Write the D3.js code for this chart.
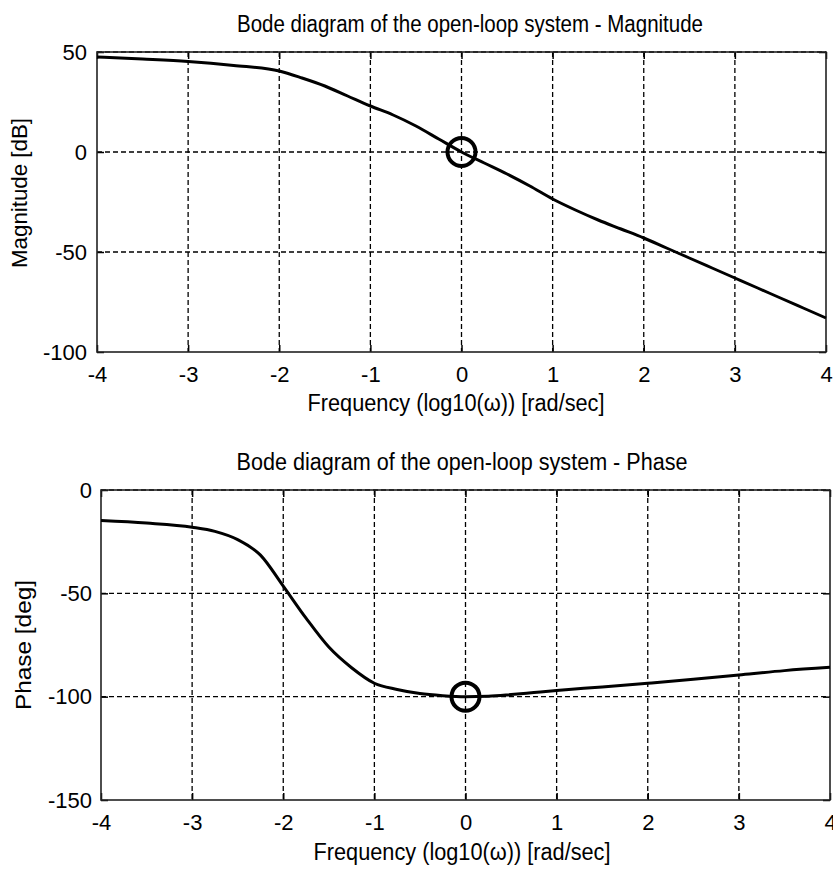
<!DOCTYPE html>
<html lang="en">
<head>
<meta charset="utf-8">
<title>Bode diagram</title>
<script src="https://d3js.org/d3.v7.min.js"></script>
<style>
body { margin: 0; background: #fff; }
svg { display: block; }
text { font-family: "Liberation Sans", Arial, sans-serif; fill: #000; }
.grid line { stroke: #000; stroke-width: 1.3; stroke-dasharray: 5,3; }
.axis path { display: none; }
.axis line { stroke: #000; stroke-width: 1.5; }
.axis text { font-size: 22px; }
.frame { fill: none; stroke: #222; stroke-width: 1.6; }
.curve { fill: none; stroke: #000; stroke-width: 3; }
.marker { fill: none; stroke: #000; stroke-width: 4; }
</style>
</head>
<body>
<script>

// frequency axis, log10(w)
var freqTicks = [-4, -3, -2, -1, 0, 1, 2, 3, 4];
var magTicks = [-100, -50, 0, 50];
var phaseTicks = [-150, -100, -50, 0];

// magnitude curve [dB]
var magFreq = [-4, -3.5, -3, -2.5, -2, -1.75, -1.5, -1.25, -1, -0.75, -0.5, -0.25, 0,
               0.25, 0.5, 0.75, 1, 1.25, 1.5, 1.75, 2, 2.25, 2.5, 2.75, 3, 3.25, 3.5, 3.75, 4];
var magDb = [47.5, 46.5, 45.3, 43.3, 40.5, 37, 33, 28, 23, 18.5, 13, 6.5, 0,
             -5.5, -11, -17, -23.5, -29, -34, -38.5, -43, -48, -53, -58, -63, -68, -73, -78, -83];

// phase curve [deg]
var phFreq = [-4, -3.5, -3, -2.75, -2.5, -2.25, -2, -1.75, -1.5, -1.25, -1, -0.75, -0.5, -0.25, 0,
              0.25, 0.5, 0.75, 1, 1.5, 2, 2.5, 3, 3.5, 4];
var phDeg = [-14.8, -16, -18, -20, -24, -31.5, -46.5, -62, -76, -86, -93.5, -96.5, -98.5, -99.5, -100,
             -99.8, -99, -98, -97, -95.3, -93.5, -91.6, -89.5, -87.4, -85.8];

// crossover markers
var magMarker = [0, 0];
var phMarker = [0, -100];

var svg = d3.select("body").append("svg")
    .attr("width", 833)
    .attr("height", 870);

function fitText(sel, w) {
    sel.attr("textLength", w).attr("lengthAdjust", "spacingAndGlyphs");
}

// plain hyphen minus like the original
var fmt = function(d) { return String(d); };

function panel(opt) {
    var x = d3.scaleLinear().domain([-4, 4]).range([opt.left, opt.right]);
    var y = d3.scaleLinear().domain(opt.yDomain).range([opt.bottom, opt.top]);
    var g = svg.append("g");

    // dashed grid
    var grid = g.append("g").attr("class", "grid");
    grid.selectAll(".gx").data(freqTicks.slice(1, -1)).enter().append("line")
        .attr("x1", function(d) { return x(d); }).attr("x2", function(d) { return x(d); })
        .attr("y1", opt.top).attr("y2", opt.bottom);
    grid.selectAll(".gy").data(opt.yTicks.filter(function(d) { return d != opt.yDomain[0]; })).enter().append("line")
        .attr("x1", opt.left).attr("x2", opt.right)
        .attr("y1", function(d) { return y(d); }).attr("y2", function(d) { return y(d); });

    // axes, matlab style ticks pointing inward
    g.append("g").attr("class", "axis")
        .attr("transform", "translate(0," + opt.bottom + ")")
        .call(d3.axisBottom(x).tickValues(freqTicks).tickSize(-7).tickPadding(14).tickFormat(fmt));
    g.append("g").attr("class", "axis")
        .attr("transform", "translate(0," + opt.top + ")")
        .call(d3.axisTop(x).tickValues(freqTicks).tickSize(-7).tickFormat(""));
    g.append("g").attr("class", "axis")
        .attr("transform", "translate(" + opt.left + ",0)")
        .call(d3.axisLeft(y).tickValues(opt.yTicks).tickSize(-7).tickPadding(opt.yPad).tickFormat(fmt));
    g.append("g").attr("class", "axis")
        .attr("transform", "translate(" + opt.right + ",0)")
        .call(d3.axisRight(y).tickValues(opt.yTicks).tickSize(-7).tickFormat(""));

    g.append("rect").attr("class", "frame")
        .attr("x", opt.left).attr("y", opt.top)
        .attr("width", opt.right - opt.left).attr("height", opt.bottom - opt.top);

    var line = d3.line()
        .x(function(d) { return x(d[0]); })
        .y(function(d) { return y(d[1]); })
        .curve(d3.curveMonotoneX);

    g.append("path").attr("class", "curve")
        .attr("d", line(d3.zip(opt.xs, opt.ys)));

    g.append("circle").attr("class", "marker")
        .attr("cx", x(opt.marker[0])).attr("cy", y(opt.marker[1])).attr("r", 14);

    // title and labels
    g.append("text")
        .attr("x", opt.titleX).attr("y", opt.titleY)
        .attr("text-anchor", "middle").style("font-size", "23px")
        .text(opt.title).call(fitText, opt.titleW);
    g.append("text")
        .attr("x", opt.xLabelX).attr("y", opt.xLabelY)
        .attr("text-anchor", "middle").style("font-size", "23px")
        .text("Frequency (log10(\u03c9)) [rad/sec]").call(fitText, 297);
    g.append("text")
        .attr("transform", "translate(" + opt.yLabelX + "," + opt.yLabelY + ") rotate(-90)")
        .attr("text-anchor", "middle").style("font-size", "22px")
        .text(opt.yLabel).call(fitText, opt.yLabelW);
}

panel({
    left: 97, right: 826, top: 52, bottom: 352,
    yDomain: [-100, 50], yTicks: magTicks, yPad: 10,
    xs: magFreq, ys: magDb, marker: magMarker,
    title: "Bode diagram of the open-loop system - Magnitude",
    titleX: 470, titleY: 32, titleW: 466,
    xLabelX: 456, xLabelY: 411,
    yLabel: "Magnitude [dB]", yLabelX: 27, yLabelY: 193, yLabelW: 150
});

panel({
    left: 101, right: 830, top: 490, bottom: 800,
    yDomain: [-150, 0], yTicks: phaseTicks, yPad: 9,
    xs: phFreq, ys: phDeg, marker: phMarker,
    title: "Bode diagram of the open-loop system - Phase",
    titleX: 462, titleY: 470, titleW: 451,
    xLabelX: 462, xLabelY: 860,
    yLabel: "Phase [deg]", yLabelX: 31, yLabelY: 645, yLabelW: 130
});

</script>
</body>
</html>
